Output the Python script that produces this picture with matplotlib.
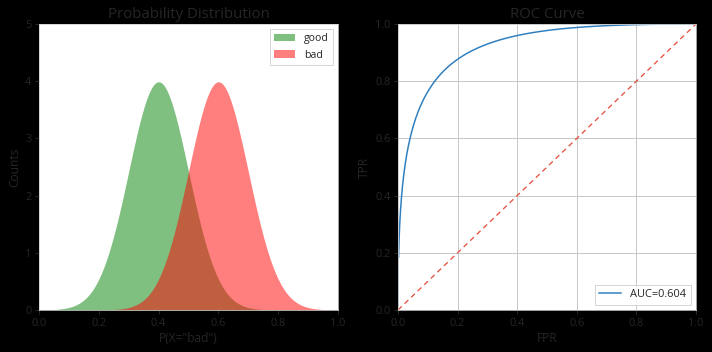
import numpy as np
import matplotlib
matplotlib.use("Agg")
import matplotlib.pyplot as plt
from math import erf, sqrt

# ---- data ----
good_mean, bad_mean, class_std = 0.4, 0.6, 0.1
x_grid = np.linspace(0.0, 1.0, 401)
auc_label = "AUC=0.604"
x_ticks = [0.0, 0.2, 0.4, 0.6, 0.8, 1.0]
left_y_ticks = [0, 1, 2, 3, 4, 5]

def normpdf(x, m, s):
    return np.exp(-0.5 * ((x - m) / s) ** 2) / (s * np.sqrt(2 * np.pi))

def normsf(t, m, s):
    return np.array([0.5 * (1 - erf((v - m) / (s * sqrt(2)))) for v in t])

good_density = normpdf(x_grid, good_mean, class_std)
bad_density = normpdf(x_grid, bad_mean, class_std)
thresholds = np.linspace(0.69, -1.0, 3001)
fpr = np.concatenate([[0.0, 0.0], normsf(thresholds, good_mean, class_std)])
tpr = np.concatenate([[0.0, 0.19], normsf(thresholds, bad_mean, class_std)])

text_color = "#262626"
plt.rcParams.update({
    "font.family": ["Open Sans", "DejaVu Sans"],
    "text.color": text_color,
    "axes.labelcolor": text_color,
    "xtick.color": text_color,
    "ytick.color": text_color,
    "axes.edgecolor": "#cccccc",
})

fig = plt.figure(figsize=(712 / 72, 352 / 72), dpi=72, facecolor="black")
ax1 = fig.add_axes([39 / 712, 1 - 310 / 352, (338 - 39) / 712, (310 - 24) / 352])
ax2 = fig.add_axes([398 / 712, 1 - 310 / 352, (696 - 398) / 712, (310 - 24) / 352])

ax1.fill_between(x_grid, good_density, color="green", alpha=0.5, linewidth=0, label="good")
ax1.fill_between(x_grid, bad_density, color="red", alpha=0.5, linewidth=0, label="bad")
ax1.set_xlim(0, 1)
ax1.set_ylim(0, 5)
ax1.set_xticks(x_ticks)
ax1.set_yticks(left_y_ticks)
ax1.set_title("Probability Distribution", fontsize=15)
ax1.set_xlabel('P(X="bad")', fontsize=12)
ax1.set_ylabel("Counts", fontsize=12)
ax1.legend(loc="upper right", fontsize=10.5, fancybox=False, edgecolor="#cccccc")

ax2.plot(fpr, tpr, color="#2f7fbf", linewidth=1.5, label=auc_label)
ax2.plot([0, 1], [0, 1], linestyle="--", color="#e5503f", linewidth=1.3, dashes=(4, 3))
ax2.set_xlim(0, 1)
ax2.set_ylim(0, 1)
ax2.set_xticks(x_ticks)
ax2.set_yticks(x_ticks)
ax2.grid(True, color="#c8c8c8", linewidth=1)
ax2.set_axisbelow(True)
ax2.set_title("ROC Curve", fontsize=15)
ax2.set_xlabel("FPR", fontsize=12)
ax2.set_ylabel("TPR", fontsize=12)
ax2.legend(loc="lower right", fontsize=11, fancybox=False, edgecolor="#cccccc")

for ax in (ax1, ax2):
    ax.tick_params(labelsize=11, length=4, width=1)
    ax.set_facecolor("white")

fig.savefig("out.png", dpi=72, facecolor="black")
